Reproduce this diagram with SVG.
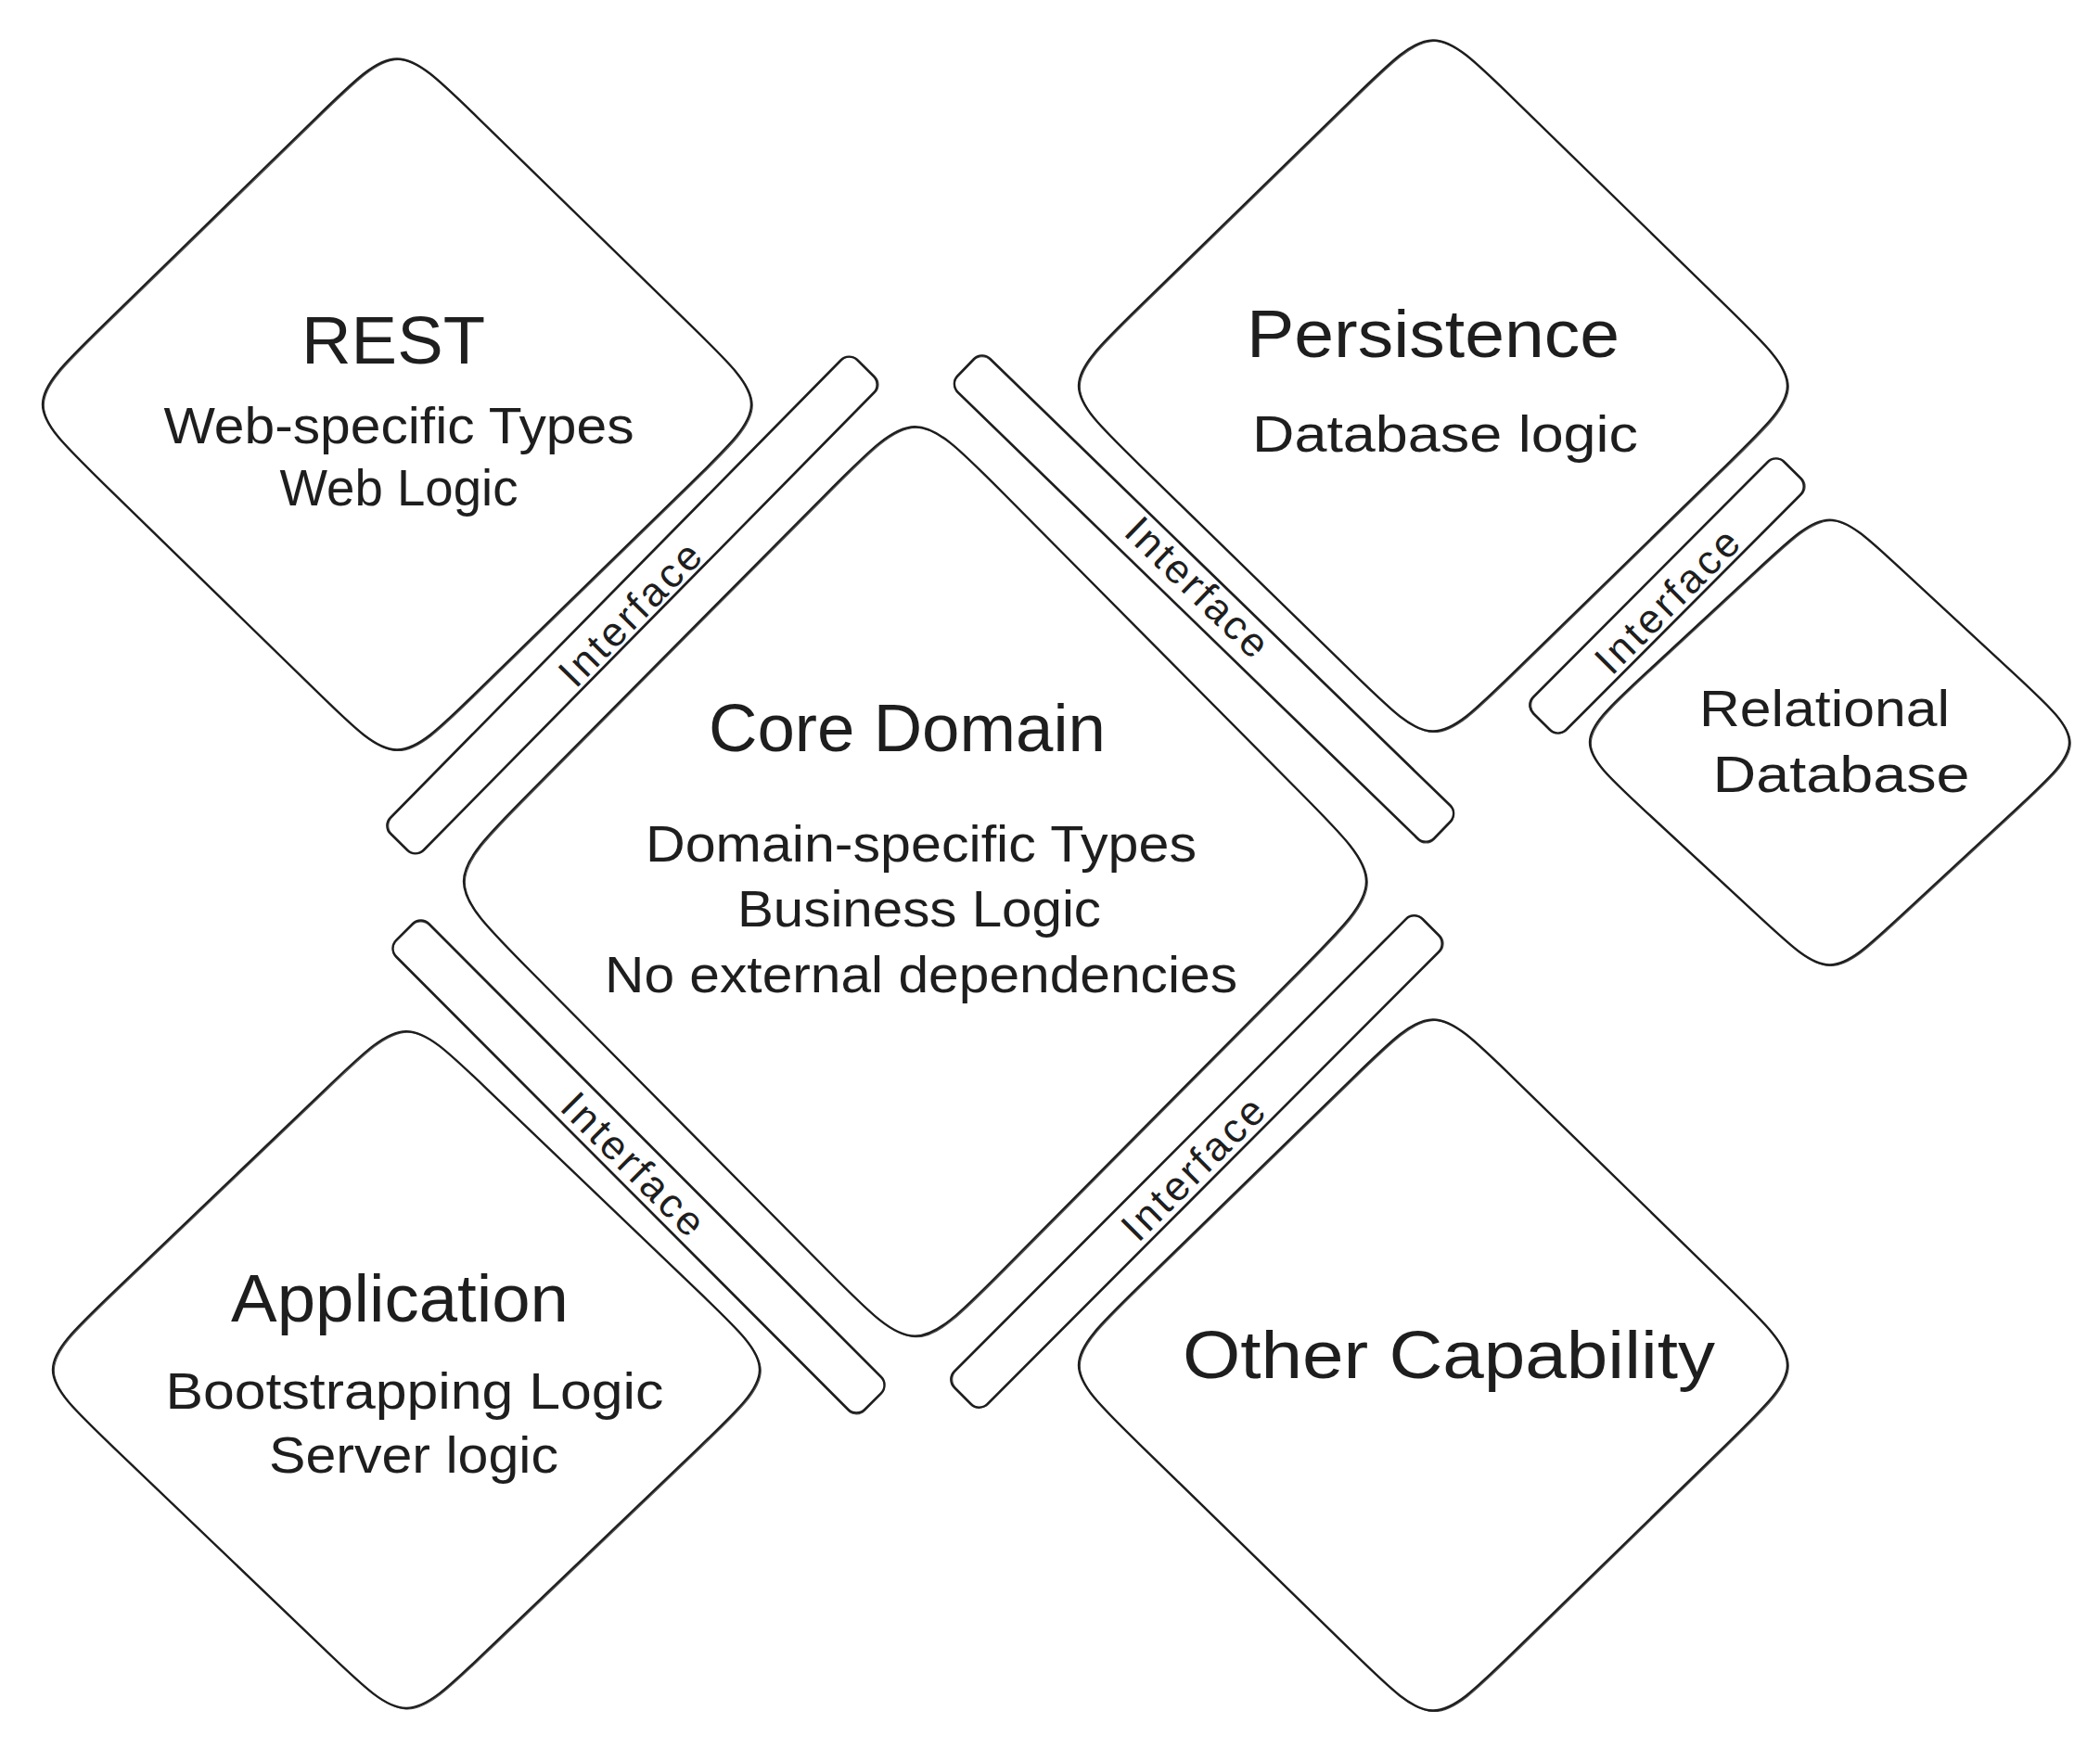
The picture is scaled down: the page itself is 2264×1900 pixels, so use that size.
<svg xmlns="http://www.w3.org/2000/svg" xmlns:xlink="http://www.w3.org/1999/xlink" width="2264" height="1900" viewBox="0 0 2264 1900">
<style>
.s1{fill:none;stroke:#1e1e1e;stroke-width:2.4;stroke-linejoin:round}
.s2{fill:none;stroke:#1e1e1e;stroke-width:1.1;opacity:0.8}
.t{font-family:"Liberation Sans",Arial,sans-serif;fill:#1e1e1e;text-anchor:middle}
.h{font-size:72px}
.b{font-size:56px}
.i{font-size:44px}
</style>
<defs>
<path id="d-rest" d="M516,127.8 L744,350.2 C832,436 832,436 744,521.8 L516,744.2 C428,830 428,830 340,744.2 L112,521.8 C24,436 24,436 112,350.2 L340,127.8 C428,42 428,42 516,127.8 Z"/>
<path id="d-pers" d="M1633,107.8 L1861,330.2 C1949,416 1949,416 1861,501.8 L1633,724.2 C1545,810 1545,810 1457,724.2 L1229,501.8 C1141,416 1141,416 1229,330.2 L1457,107.8 C1545,22 1545,22 1633,107.8 Z"/>
<path id="d-rel" d="M2052.5,616.3 L2171,726.2 C2251,800.5 2251,800.5 2171,874.8 L2052.5,984.7 C1972.5,1059 1972.5,1059 1892.5,984.7 L1774,874.8 C1694,800.5 1694,800.5 1774,726.2 L1892.5,616.3 C1972.5,542 1972.5,542 2052.5,616.3 Z"/>
<path id="d-core" d="M1082.5,532.75 L1401,853.75 C1497,950.5 1497,950.5 1401,1047.25 L1082.5,1368.25 C986.5,1465 986.5,1465 890.5,1368.25 L572,1047.25 C476,950.5 476,950.5 572,853.75 L890.5,532.75 C986.5,436 986.5,436 1082.5,532.75 Z"/>
<path id="d-app" d="M526,1175.3 L753,1392.7 C841,1477 841,1477 753,1561.3 L526,1778.7 C438,1863 438,1863 350,1778.7 L123,1561.3 C35,1477 35,1477 123,1392.7 L350,1175.3 C438,1091 438,1091 526,1175.3 Z"/>
<path id="d-other" d="M1633,1163.8 L1861,1386.2 C1949,1472 1949,1472 1861,1557.8 L1633,1780.2 C1545,1866 1545,1866 1457,1780.2 L1229,1557.8 C1141,1472 1141,1472 1229,1386.2 L1457,1163.8 C1545,1078 1545,1078 1633,1163.8 Z"/>
</defs>
<rect x="0" y="0" width="2264" height="1900" fill="#ffffff"/>
<g id="connectors"></g>

<g id="rest">
<use xlink:href="#d-rest" class="s1"/>
<use xlink:href="#d-rest" class="s2" transform="translate(1.3,1)"/>
<text class="t h" x="424" y="392" textLength="198" lengthAdjust="spacingAndGlyphs">REST</text>
<text class="t b" x="430" y="478" textLength="507" lengthAdjust="spacingAndGlyphs">Web-specific Types</text>
<text class="t b" x="430" y="545" textLength="257" lengthAdjust="spacingAndGlyphs">Web Logic</text>
</g>

<g id="persistence">
<use xlink:href="#d-pers" class="s1"/>
<use xlink:href="#d-pers" class="s2" transform="translate(1.3,1)"/>
<text class="t h" x="1545" y="385" textLength="402" lengthAdjust="spacingAndGlyphs">Persistence</text>
<text class="t b" x="1558" y="487" textLength="416" lengthAdjust="spacingAndGlyphs">Database logic</text>
</g>

<g id="relational-database">
<use xlink:href="#d-rel" class="s1"/>
<use xlink:href="#d-rel" class="s2" transform="translate(1.3,1)"/>
<text class="t b" x="1967" y="783" textLength="270" lengthAdjust="spacingAndGlyphs">Relational</text>
<text class="t b" x="1985" y="854" textLength="277" lengthAdjust="spacingAndGlyphs">Database</text>
</g>

<g id="core-domain">
<use xlink:href="#d-core" class="s1"/>
<use xlink:href="#d-core" class="s2" transform="translate(1.3,1)"/>
<text class="t h" x="978" y="810" textLength="428" lengthAdjust="spacingAndGlyphs">Core Domain</text>
<text class="t b" x="993" y="929" textLength="594" lengthAdjust="spacingAndGlyphs">Domain-specific Types</text>
<text class="t b" x="991" y="999" textLength="392" lengthAdjust="spacingAndGlyphs">Business Logic</text>
<text class="t b" x="993" y="1070" textLength="682" lengthAdjust="spacingAndGlyphs">No external dependencies</text>
</g>

<g id="application">
<use xlink:href="#d-app" class="s1"/>
<use xlink:href="#d-app" class="s2" transform="translate(1.3,1)"/>
<text class="t h" x="431" y="1425" textLength="364" lengthAdjust="spacingAndGlyphs">Application</text>
<text class="t b" x="447" y="1519" textLength="537" lengthAdjust="spacingAndGlyphs">Bootstrapping Logic</text>
<text class="t b" x="446" y="1588" textLength="312" lengthAdjust="spacingAndGlyphs">Server logic</text>
</g>

<g id="other-capability">
<use xlink:href="#d-other" class="s1"/>
<use xlink:href="#d-other" class="s2" transform="translate(1.3,1)"/>
<text class="t h" x="1562" y="1486" textLength="574" lengthAdjust="spacingAndGlyphs">Other Capability</text>
</g>

<g id="interface-rest-core">
<g transform="translate(681.5,652.5) rotate(-45.45)">
<rect class="s1" x="-358.5" y="-25" width="717" height="50" rx="12.5"/>
<rect class="s2" x="-357.5" y="-24" width="717" height="50" rx="12.5"/>
</g>
<text class="t i" transform="translate(679,662) rotate(-45.45)" x="0" y="0" dominant-baseline="central" textLength="198" lengthAdjust="spacing">Interface</text>
</g>

<g id="interface-core-persistence">
<g transform="translate(1298,645.5) rotate(44.15)">
<rect class="s1" x="-358" y="-25" width="716" height="50" rx="12.5"/>
<rect class="s2" x="-357" y="-24" width="716" height="50" rx="12.5"/>
</g>
<text class="t i" transform="translate(1291,633) rotate(44.15)" x="0" y="0" dominant-baseline="central" textLength="196" lengthAdjust="spacing">Interface</text>
</g>

<g id="interface-persistence-relational">
<g transform="translate(1797,642.5) rotate(-45.1)">
<rect class="s1" x="-191.5" y="-25" width="383" height="50" rx="12.5"/>
<rect class="s2" x="-190.5" y="-24" width="383" height="50" rx="12.5"/>
</g>
<text class="t i" transform="translate(1797,648) rotate(-45.1)" x="0" y="0" dominant-baseline="central" textLength="200" lengthAdjust="spacing">Interface</text>
</g>

<g id="interface-core-application">
<g transform="translate(688.5,1258) rotate(45.06)">
<rect class="s1" x="-357.5" y="-25" width="715" height="50" rx="12.5"/>
<rect class="s2" x="-356.5" y="-24" width="715" height="50" rx="12.5"/>
</g>
<text class="t i" transform="translate(683,1255) rotate(45.06)" x="0" y="0" dominant-baseline="central" textLength="198" lengthAdjust="spacing">Interface</text>
</g>

<g id="interface-core-other">
<g transform="translate(1290,1252.5) rotate(-45.06)">
<rect class="s1" x="-357" y="-25" width="714" height="50" rx="12.5"/>
<rect class="s2" x="-356" y="-24" width="714" height="50" rx="12.5"/>
</g>
<text class="t i" transform="translate(1286,1260) rotate(-45.06)" x="0" y="0" dominant-baseline="central" textLength="198" lengthAdjust="spacing">Interface</text>
</g>
</svg>
